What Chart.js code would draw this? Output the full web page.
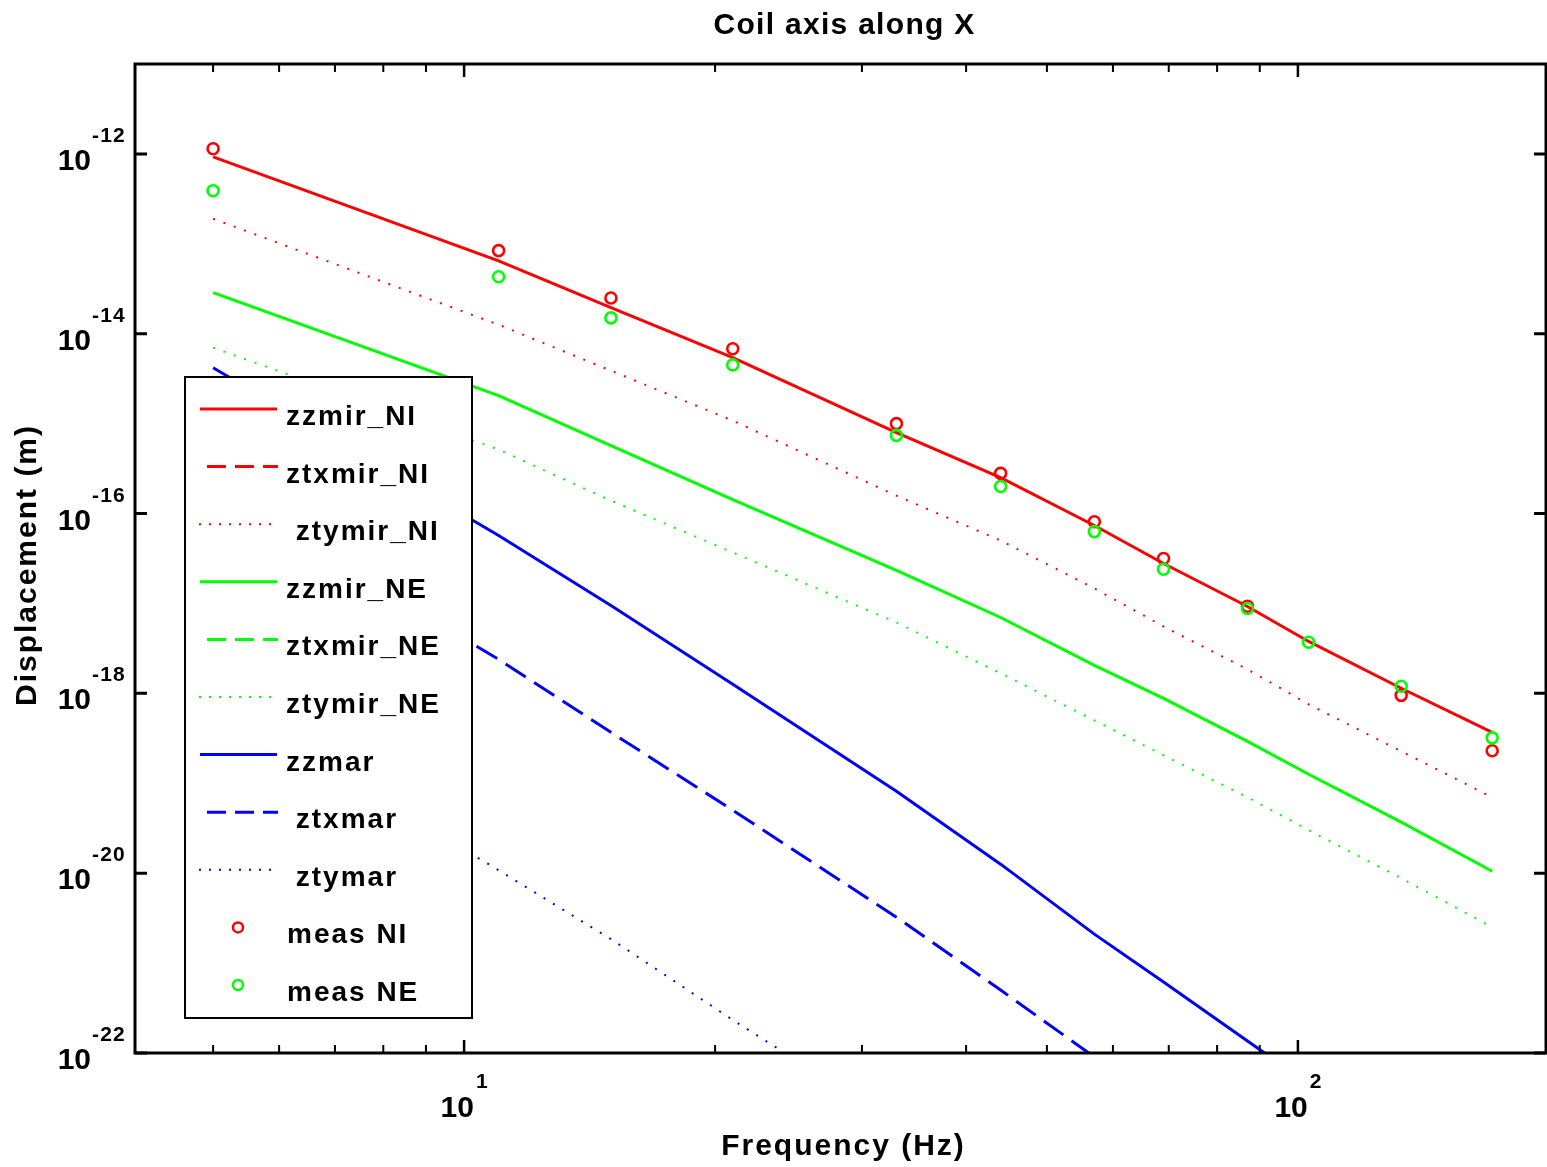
<!DOCTYPE html>
<html>
<head>
<meta charset="utf-8">
<script src="https://cdn.jsdelivr.net/npm/chart.js@4.4.1/dist/chart.umd.min.js"></script>
<style>
html,body{margin:0;padding:0;background:#fff;overflow:hidden;}
#wrap{width:1547px;height:1167px;position:relative;overflow:hidden;}
#c{display:block;}
</style>
</head>
<body>
<div id="wrap"><canvas id="c" width="1547" height="1167"></canvas></div>
<script>
// ---------- text ----------
const chartTitle = 'Coil axis along X';
const xAxisLabel = 'Frequency (Hz)';
const yAxisLabel = 'Displacement (m)';

// ---------- axis ticks ----------
const xMajorTicks = [10, 100];
const xMinorTicks = [5, 6, 7, 8, 9, 20, 30, 40, 50, 60, 70, 80, 90];
const yMajorTicks = [1e-22, 1e-20, 1e-18, 1e-16, 1e-14, 1e-12];

// ---------- model frequencies (Hz) ----------
const modelFreqs = [5, 11, 15, 21, 33, 44, 57, 69, 87, 103, 133, 171];

// ---------- model series (m) ----------
const zzmirNI  = [9.26e-13, 6.47e-14, 1.95e-14, 5.41e-15, 7.94e-16, 2.51e-16, 7.36e-17, 2.78e-17, 9.26e-18, 3.78e-18, 1.14e-18, 3.69e-19];
const ztxmirNI = [null, null, null, null, null, null, null, null, null, null, null, null];
const ztymirNI = [1.9e-13, 1.26e-14, 3.88e-15, 1.08e-15, 1.58e-16, 5.01e-17, 1.47e-17, 5.55e-18, 1.85e-18, 7.55e-19, 2.27e-19, 6.98e-20];
const zzmirNE  = [2.86e-14, 2.05e-15, 5.7e-16, 1.43e-16, 2.33e-17, 6.98e-18, 2.05e-18, 8.8e-19, 2.93e-19, 1.26e-19, 3.69e-20, 1.05e-20];
const ztxmirNE = [null, null, null, null, null, null, null, null, null, null, null, null];
const ztymirNE = [6.99e-15, 5.14e-16, 1.39e-16, 3.69e-17, 6.15e-18, 1.67e-18, 5.01e-19, 2.05e-19, 6.98e-20, 3.01e-20, 8.8e-21, 2.51e-21];
const zzmar    = [4.19e-15, 5.7e-17, 9.5e-18, 1.26e-18, 8.15e-20, 1.26e-20, 2.1e-21, 6.15e-22, 1.36e-22, 4.53e-23, 9.0e-24, 1.67e-24];
const ztxmar   = [1.8e-16, 2.39e-18, 3.69e-19, 5.01e-20, 3.24e-21, 5.01e-22, 9.03e-23, 2.78e-23, 6.15e-24, 2.05e-24, 4.19e-25, 7.74e-26];
const ztymar   = [8.36e-19, 1.08e-20, 1.85e-21, 2.33e-22, 1.63e-23, 2.51e-24, 4.19e-25, 1.23e-25, 2.71e-26, 9.03e-27, 1.8e-27, 3.33e-28];

// ---------- measurements ----------
const measFreqNI = [5, 11, 15, 21, 33, 44, 57, 69, 87, 133, 171];
const measNI     = [1.14e-12, 8.4e-14, 2.5e-14, 6.8e-15, 1.0e-15, 2.8e-16, 8.1e-17, 3.16e-17, 9.3e-18, 9.5e-19, 2.3e-19];
const measFreqNE = [5, 11, 15, 21, 33, 44, 57, 69, 87, 103, 133, 171];
const measNE     = [3.9e-13, 4.3e-14, 1.5e-14, 4.5e-15, 7.4e-16, 2.0e-16, 6.3e-17, 2.4e-17, 8.8e-18, 3.7e-18, 1.2e-18, 3.2e-19];

// ---------- helpers ----------
const RED = '#ff0000', GREEN = '#00ff00', BLUE = '#0000ff';
const STYLE_DASH = [24, 10];
const STYLE_DOT = [2, 9];
function pts(xs, ys) { return xs.map((x, i) => ({x: x, y: ys[i]})); }

function lineSet(label, xs, ys, color, kind, order) {
  return {
    label: label,
    data: pts(xs, ys),
    borderColor: color,
    backgroundColor: color,
    borderWidth: kind === 'dot' ? 2 : 3,
    borderDash: kind === 'dash' ? STYLE_DASH : (kind === 'dot' ? STYLE_DOT : []),
    pointRadius: 0,
    pointHoverRadius: 0,
    tension: 0,
    fill: false,
    spanGaps: false,
    order: order,
    _kind: kind
  };
}
function markerSet(label, xs, ys, color, order) {
  return {
    label: label,
    data: pts(xs, ys),
    borderColor: color,
    backgroundColor: 'rgba(0,0,0,0)',
    showLine: false,
    pointStyle: 'circle',
    pointRadius: 5.5,
    pointHoverRadius: 5.5,
    pointBorderWidth: 2.6,
    pointBorderColor: color,
    pointBackgroundColor: 'rgba(0,0,0,0)',
    order: order,
    _kind: 'marker'
  };
}

const datasets = [
  lineSet('zzmir_NI',   modelFreqs, zzmirNI,  RED,   'solid', 10),
  lineSet('ztxmir_NI',  modelFreqs, ztxmirNI, RED,   'dash',  9),
  lineSet(' ztymir_NI', modelFreqs, ztymirNI, RED,   'dot',   8),
  lineSet('zzmir_NE',   modelFreqs, zzmirNE,  GREEN, 'solid', 7),
  lineSet('ztxmir_NE',  modelFreqs, ztxmirNE, GREEN, 'dash',  6),
  lineSet('ztymir_NE',  modelFreqs, ztymirNE, GREEN, 'dot',   5),
  lineSet('zzmar',      modelFreqs, zzmar,    BLUE,  'solid', 4),
  lineSet(' ztxmar',    modelFreqs, ztxmar,   BLUE,  'dash',  3),
  lineSet(' ztymar',    modelFreqs, ztymar,   BLUE,  'dot',   2),
  markerSet('meas NI', measFreqNI, measNI, RED,   1),
  markerSet('meas NE', measFreqNE, measNE, GREEN, 0)
];

// ---------- drawing plugin (MATLAB-like frame, ticks, labels, legend) ----------
const FONT = '"Liberation Sans", Arial, Helvetica, sans-serif';
function setFont(ctx, size, spacing) {
  ctx.font = 'bold ' + size + 'px ' + FONT;
  if ('letterSpacing' in ctx) ctx.letterSpacing = spacing + 'px';
}

const matlabPlugin = {
  id: 'matlabLook',
  afterDatasetsDraw(chart) {
    const ctx = chart.ctx;
    // legend box
    const L = {left: 185, top: 377, right: 472, bottom: 1018};
    ctx.save();
    ctx.fillStyle = '#ffffff';
    ctx.fillRect(L.left, L.top, L.right - L.left, L.bottom - L.top);
    ctx.strokeStyle = '#000';
    ctx.lineWidth = 2;
    ctx.strokeRect(L.left, L.top, L.right - L.left, L.bottom - L.top);
    const rowStart = 409, rowStep = 57.6;
    chart.data.datasets.forEach((ds, i) => {
      const y = rowStart + i * rowStep;
      ctx.save();
      if (ds._kind === 'marker') {
        ctx.strokeStyle = ds.borderColor;
        ctx.lineWidth = 2.5;
        ctx.beginPath();
        ctx.arc(238, y, 5, 0, Math.PI * 2);
        ctx.stroke();
      } else {
        ctx.strokeStyle = ds.borderColor;
        ctx.lineWidth = ds.borderWidth;
        let x0 = 200, x1 = 277;
        if (ds._kind === 'dash') { ctx.setLineDash([19, 9]); x0 = 207; x1 = 278; }
        if (ds._kind === 'dot') { ctx.setLineDash([2, 8]); x0 = 199; x1 = 276; }
        ctx.beginPath();
        ctx.moveTo(x0, y);
        ctx.lineTo(x1, y);
        ctx.stroke();
      }
      ctx.fillStyle = '#000';
      setFont(ctx, 28, 2);
      ctx.textAlign = 'left';
      ctx.textBaseline = 'alphabetic';
      ctx.fillText(ds.label, ds._kind === 'marker' ? 287 : 286, y + 16);
      ctx.restore();
    });
    ctx.restore();
  },
  afterDraw(chart) {
    const ctx = chart.ctx;
    const a = chart.chartArea;
    const xs = chart.scales.x, ys = chart.scales.y;
    ctx.save();
    ctx.strokeStyle = '#000';
    // frame
    ctx.lineWidth = 3;
    ctx.strokeRect(a.left, a.top, a.right - a.left, a.bottom - a.top);
    // x ticks (bottom & top, inward)
    const xt = (v, len, w) => {
      const px = xs.getPixelForValue(v);
      ctx.lineWidth = w;
      ctx.beginPath();
      ctx.moveTo(px, a.bottom); ctx.lineTo(px, a.bottom - len);
      ctx.moveTo(px, a.top); ctx.lineTo(px, a.top + len);
      ctx.stroke();
    };
    xMinorTicks.forEach(v => xt(v, 8, 2));
    xMajorTicks.forEach(v => xt(v, 13, 2.5));
    // y ticks (left & right, inward)
    yMajorTicks.forEach(v => {
      const py = ys.getPixelForValue(v);
      ctx.lineWidth = 3;
      ctx.beginPath();
      ctx.moveTo(a.left, py); ctx.lineTo(a.left + 12, py);
      ctx.moveTo(a.right, py); ctx.lineTo(a.right - 12, py);
      ctx.stroke();
    });
    ctx.fillStyle = '#000';
    ctx.textBaseline = 'alphabetic';
    // y tick labels 10^n
    yMajorTicks.forEach(v => {
      const py = ys.getPixelForValue(v);
      const e = Math.round(Math.log10(v));
      setFont(ctx, 30, 0);
      ctx.textAlign = 'right';
      ctx.fillText('10', 91, py + 16);
      setFont(ctx, 21, 1.2);
      ctx.textAlign = 'left';
      ctx.fillText(String(e), 92, py - 12);
    });
    // x tick labels 10^n
    xMajorTicks.forEach(v => {
      const px = xs.getPixelForValue(v);
      const e = Math.round(Math.log10(v));
      setFont(ctx, 30, 0);
      const w1 = ctx.measureText('10').width;
      setFont(ctx, 21, 0);
      const w2 = ctx.measureText(String(e)).width;
      const start = px - (w1 + 2 + w2) / 2;
      setFont(ctx, 30, 0);
      ctx.textAlign = 'left';
      ctx.fillText('10', start, a.bottom + 64);
      setFont(ctx, 21, 0);
      ctx.fillText(String(e), start + w1 + 2, a.bottom + 35);
    });
    // title
    setFont(ctx, 30, 1.3);
    ctx.textAlign = 'center';
    ctx.fillText(chartTitle, (a.left + a.right) / 2 + 4, 34);
    // x label
    setFont(ctx, 30, 2);
    ctx.fillText(xAxisLabel, (a.left + a.right) / 2 + 3, 1155);
    // y label
    ctx.save();
    ctx.translate(36, 565);
    ctx.rotate(-Math.PI / 2);
    setFont(ctx, 30, 2);
    ctx.textAlign = 'center';
    ctx.fillText(yAxisLabel, 0, 0);
    ctx.restore();
    ctx.restore();
  }
};

new Chart(document.getElementById('c'), {
  type: 'line',
  data: { datasets: datasets },
  options: {
    responsive: false,
    devicePixelRatio: 1,
    animation: false,
    events: [],
    layout: { autoPadding: false, padding: { left: 135, right: 1, top: 64, bottom: 114 } },
    plugins: {
      legend: { display: false },
      title: { display: false },
      tooltip: { enabled: false }
    },
    scales: {
      x: { type: 'logarithmic', min: 4.03, max: 198.4, display: false },
      y: { type: 'logarithmic', min: 1e-22, max: 1e-11, display: false }
    }
  },
  plugins: [matlabPlugin]
});
</script>
</body>
</html>
